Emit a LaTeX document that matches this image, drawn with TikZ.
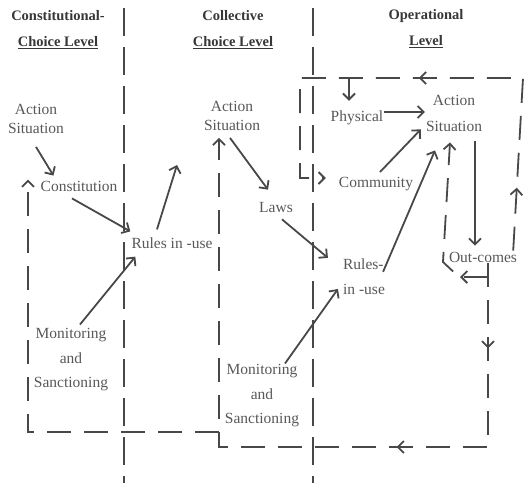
\documentclass[tikz,border=0pt]{standalone}
\usepackage{fontspec}
\setmainfont{Liberation Serif}
\usetikzlibrary{arrows.meta,decorations.markings}
\definecolor{lvl_line}{RGB}{72,72,72}
\definecolor{lvl_text}{RGB}{88,88,88}
\definecolor{lvl_head}{RGB}{55,55,55}

\begin{document}
\begin{tikzpicture}[x=1pt, y=-1pt,
    >={Straight Barb[length=6pt,width=12pt]},
    lbl/.style={text=lvl_text, inner sep=1pt, align=center, font=\fontsize{15.5}{19}\selectfont},
    head/.style={text=lvl_head, inner sep=1pt, align=center, font=\fontsize{14.5}{26}\selectfont\bfseries},
    flow/.style={draw=lvl_line, color=lvl_line, line width=1.8pt, ->},
    fb/.style={draw=lvl_line, color=lvl_line, line width=1.8pt, dash pattern=on 24pt off 13pt},
    divide/.style={draw=lvl_line, line width=1.8pt, dash pattern=on 28pt off 11pt},
    midarr/.style={postaction={decorate, decoration={markings, mark=at position #1 with {\arrow{>}}}}}]
  \useasboundingbox (0,0) rectangle (525,483);

  % level headings
  \node[head] (hconst) at (58,30) {Constitutional-\\\underline{Choice Level}};
  \node[head] (hcoll) at (233,30) {Collective\\\underline{Choice Level}};
  \node[head] (hoper) at (426,29) {Operational\\\underline{Level}};

  % level dividers
  \draw[divide] (124,8) -- (124,483);
  \draw[divide] (313,8) -- (313,483);

  % constitutional-choice level
  \node[lbl] (lact) at (36,119) {Action\\Situation};
  \node[lbl] (cons) at (79,186) {Constitution};
  \node[lbl] (rules1) at (172,243) {Rules in -use};
  \node[lbl, font=\fontsize{15.5}{24.5}\selectfont] (mon1) at (71,360) {Monitoring\\and\\Sanctioning};

  % collective choice level
  \node[lbl] (cact) at (232,116) {Action\\Situation};
  \node[lbl] (laws) at (276,207) {Laws};
  \node[lbl, font=\fontsize{15.5}{24.5}\selectfont] (mon2) at (262,396) {Monitoring\\and\\Sanctioning};

  % operational level
  \node[lbl] (phys) at (357,118) {Physical};
  \node[lbl, font=\fontsize{15.5}{26}\selectfont] (oact) at (454,113) {Action\\Situation};
  \node[lbl] (comm) at (376,184) {Community};
  \node[lbl, align=left, font=\fontsize{15.5}{25}\selectfont] (rules2) at (364,277) {Rules-\\in -use};
  \node[lbl] (outc) at (483,257) {Out-comes};

  % corners of the feedback loops
  \coordinate (cbl) at (28,432);
  \coordinate (cbj) at (219,432);
  \coordinate (cbm) at (219,447);
  \coordinate (ctl) at (300,78);
  \coordinate (ctr) at (523,78);
  \coordinate (ctp) at (349,78);
  \coordinate (coj) at (488,277);
  \coordinate (coa) at (459,277);
  \coordinate (cob) at (443,262);
  \coordinate (crf) at (177,165);
  \coordinate (cout) at ([xshift=21,yshift=-9]oact.south);

  % solid flows
  \draw[flow] ([yshift=-12]lact.south) -- ([xshift=14,yshift=4]cons.north west);
  \draw[flow] ([xshift=-7,yshift=-6]cons.south) -- ([yshift=5]rules1.north west);
  \draw[flow] ([xshift=9,yshift=3]mon1.north) -- ([xshift=5,yshift=-7]rules1.south west);
  \draw[flow] ([xshift=-15,yshift=7]rules1.north) -- (crf);
  \draw[flow] ([xshift=-2,yshift=-6]cact.south) -- ([xshift=-8,yshift=11]laws.north);
  \draw[flow] ([xshift=6,yshift=-6]laws.south) -- ([xshift=-14]rules2.north west);
  \draw[flow] ([xshift=23]mon2.north) -- ([xshift=-4,yshift=-12]rules2.west);
  \draw[flow] ([yshift=6]phys.east) -- ([yshift=1]oact.west);
  \draw[flow] ([xshift=4,yshift=4]comm.north) -- ([xshift=-4,yshift=3]oact.south west);
  \draw[flow] ([xshift=-3,yshift=-14]rules2.north east) -- ([xshift=-19,yshift=-18]oact.south);
  \draw[flow, shorten >=5pt] (cout) -- (cout |- outc.north);

  % feedback loops
  \draw[fb, ->, shorten >=6pt, midarr=85pt, midarr=275pt]
    ([xshift=5]outc.south) |- (cbm) -- (cbm |- cact.south);
  \draw[fb, ->] (cbj) -- (cbl) -- (cbl |- cons.north);
  \draw[fb, ->, midarr=28pt] (coj) -- (coa) -- (cob) -- ([xshift=-4,yshift=-10]oact.south);
  \draw[fb, ->, shorten >=12pt, midarr=63pt, midarr=277pt]
    ([xshift=-5]outc.north east) -- (ctr) -- (ctl) |- ([yshift=6]comm.west);
  \draw[fb, ->, shorten >=9pt] (ctp) -- (ctp |- phys.north);
\end{tikzpicture}
\end{document}
